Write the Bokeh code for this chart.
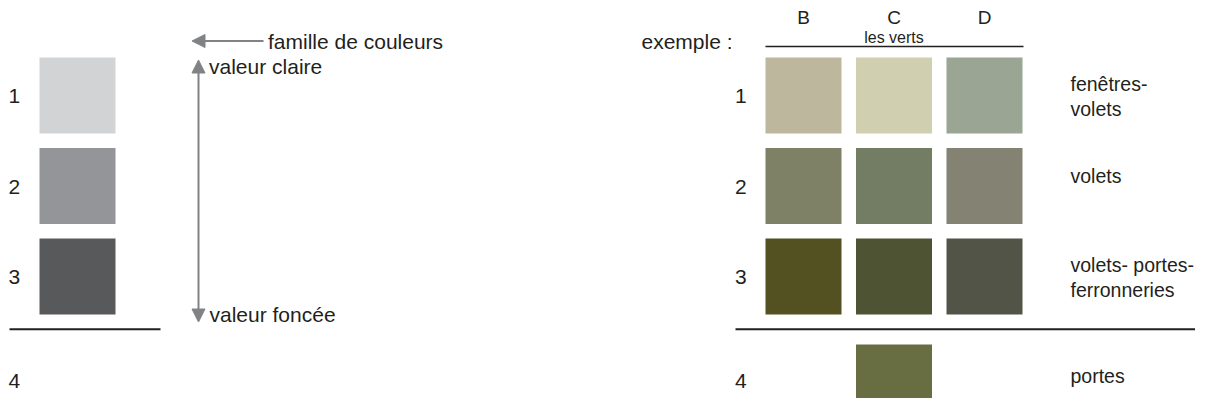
from bokeh.plotting import figure
from bokeh.models import Range1d, Arrow, NormalHead, ColumnDataSource
from bokeh.core.properties import value
from bokeh.embed import file_html
from bokeh.resources import INLINE

# ---------------- data ----------------
value_levels = ["1", "2", "3", "4"]
grey_colors = ["#d1d3d4", "#939598", "#58595b"]          # levels 1-3, generic family
green_columns = ["B", "C", "D"]
green_family = "les verts"
green_row1 = ["#bcb79d", "#d0d0b1", "#9aa593"]
green_row2 = ["#7e8166", "#727d63", "#848273"]
green_row3 = ["#535022", "#4e5433", "#515446"]
green_row4 = [None, "#686e42", None]
uses = ["fenêtres-\nvolets", "volets", "volets- portes-\nferronneries", "portes"]
legend_family = "famille de couleurs"
legend_light = "valeur claire"
legend_dark = "valeur foncée"
example_label = "exemple :"

# ---------------- layout / style ----------------
W, H = 1195, 398
FONT = value("Liberation Sans")
TXT = "#231f20"
ARROW = "#808285"
SQ = 76
ROW_TOP = [57, 147.5, 238, 344]
NUM_BASE = [102.5, 193.5, 283.5, 387.5]
LEFT_SQ_X = 39
RIGHT_COL_X = [765 + j * 90.5 for j in range(3)]
LABEL_OFF = [33.3, 34.7, 33.7, 38]
LINE_GAP = 25


def dy(fs):
    # correction of rendered baseline position (text draws lower than requested)
    return -7.5 * fs / 21.0


p = figure(width=W, height=H, x_range=Range1d(0, W), y_range=Range1d(H, 0),
           output_backend="svg", toolbar_location=None, min_border=0,
           x_axis_type=None, y_axis_type=None)
p.grid.visible = False
p.outline_line_color = None
p.background_fill_color = "white"
p.border_fill_color = "white"

# left squares (generic family)
lq = dict(left=[], right=[], top=[], bottom=[], color=[])
for i, c in enumerate(grey_colors):
    lq["left"].append(LEFT_SQ_X); lq["right"].append(LEFT_SQ_X + SQ)
    lq["top"].append(ROW_TOP[i]); lq["bottom"].append(ROW_TOP[i] + SQ)
    lq["color"].append(c)
p.quad(source=ColumnDataSource(lq), left="left", right="right", top="top", bottom="bottom",
       fill_color="color", line_color=None)

# right squares (green family)
rq = dict(left=[], right=[], top=[], bottom=[], color=[])
for i, row in enumerate([green_row1, green_row2, green_row3, green_row4]):
    for j, c in enumerate(row):
        if c is None:
            continue
        rq["left"].append(RIGHT_COL_X[j]); rq["right"].append(RIGHT_COL_X[j] + SQ)
        rq["top"].append(ROW_TOP[i]); rq["bottom"].append(ROW_TOP[i] + SQ)
        rq["color"].append(c)
p.quad(source=ColumnDataSource(rq), left="left", right="right", top="top", bottom="bottom",
       fill_color="color", line_color=None)

# level numbers
nb = [b + dy(21) for b in NUM_BASE]
p.text(x=[8] * 4, y=nb, text=value_levels,
       text_font=FONT, text_font_size="21px", text_color=TXT,
       text_align="left", text_baseline="alphabetic")
p.text(x=[734.5] * 4, y=nb, text=value_levels,
       text_font=FONT, text_font_size="21px", text_color=TXT,
       text_align="left", text_baseline="alphabetic")

# separator lines
p.segment(x0=[9, 735], y0=[328.7, 328.7], x1=[160, 1211], y1=[328.7, 328.7],
          line_color=TXT, line_width=2)
p.segment(x0=[765], y0=[46], x1=[1023], y1=[46], line_color=TXT, line_width=1.5)

# column headers
col_centers = [x + SQ / 2 for x in RIGHT_COL_X]
p.text(x=col_centers, y=[24 + dy(19)] * 3, text=green_columns, text_font=FONT,
       text_font_size="19px", text_color=TXT, text_align="center", text_baseline="alphabetic")
p.text(x=[col_centers[1]], y=[42.7 + dy(16)], text=[green_family], text_font=FONT,
       text_font_size="16px", text_color=TXT, text_align="center", text_baseline="alphabetic")
p.text(x=[641], y=[48.3 + dy(21)], text=[example_label], text_font=FONT,
       text_font_size="21px", text_color=TXT, text_align="left", text_baseline="alphabetic")

# usage labels
ux, uy, ut = [], [], []
for i, lab in enumerate(uses):
    for k, line in enumerate(lab.split("\n")):
        ux.append(1070)
        uy.append(ROW_TOP[i] + LABEL_OFF[i] + k * LINE_GAP + dy(19.5))
        ut.append(line)
p.text(x=ux, y=uy, text=ut, text_font=FONT, text_font_size="19.5px", text_color=TXT,
       text_align="left", text_baseline="alphabetic")

# legend arrows and texts
p.add_layout(Arrow(end=NormalHead(size=13, fill_color=ARROW, line_color=ARROW, line_width=1),
                   x_start=263, y_start=40.5, x_end=191.5, y_end=40.5,
                   line_color=ARROW, line_width=2))
p.add_layout(Arrow(start=NormalHead(size=13, fill_color=ARROW, line_color=ARROW, line_width=1),
                   end=NormalHead(size=13, fill_color=ARROW, line_color=ARROW, line_width=1),
                   x_start=198, y_start=59.5, x_end=198, y_end=321.5,
                   line_color=ARROW, line_width=2))
p.text(x=[267.5, 208.5, 209], y=[48.3 + dy(21), 73.3 + dy(21), 321.7 + dy(21)],
       text=[legend_family, legend_light, legend_dark], text_font=FONT,
       text_font_size="21px", text_color=TXT, text_align="left", text_baseline="alphabetic")

open("out.html", "w").write(file_html(p, INLINE))
